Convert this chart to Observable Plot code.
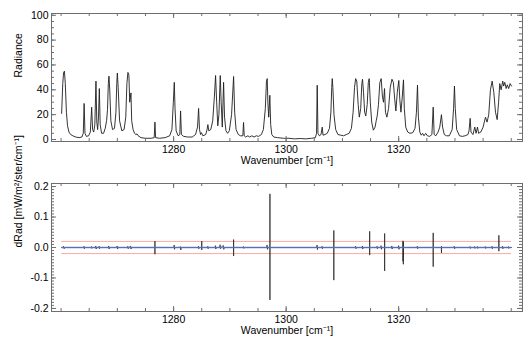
<!DOCTYPE html>
<html><head><meta charset="utf-8">
<script src="https://cdn.jsdelivr.net/npm/d3@7"></script>
<script src="https://cdn.jsdelivr.net/npm/@observablehq/plot@0.6"></script>
<style>
html,body{margin:0;padding:0;background:#fff;}
#chart{width:530px;height:338px;overflow:hidden;}
#chart svg{display:block;}
</style></head><body><div id="chart"></div>
<script>
// ---- Top panel: radiance spectrum ----
const wavenumber = [
1260.10,1260.30,1260.45,1260.60,1260.75,1260.95,1261.15,1261.40,1261.70,1262.10,
1262.60,1263.20,1263.70,1263.95,1264.10,1264.25,1264.50,1264.90,1265.20,1265.44,
1265.60,1265.80,1266.00,1266.20,1266.35,1266.50,1266.65,1266.80,1266.95,1267.20,
1267.55,1267.85,1268.10,1268.25,1268.40,1268.51,1268.65,1268.85,1269.15,1269.50,
1269.75,1269.90,1270.00,1270.15,1270.40,1270.80,1271.20,1271.50,1271.70,1271.88,
1272.05,1272.20,1272.42,1272.55,1272.80,1273.05,1273.30,1273.50,1273.70,1274.20,
1275.00,1276.00,1276.55,1276.68,1276.80,1277.50,1278.50,1279.30,1279.70,1279.95,
1280.12,1280.25,1280.45,1280.80,1281.10,1281.24,1281.38,1281.80,1282.50,1283.30,
1283.90,1284.25,1284.44,1284.60,1284.80,1284.95,1285.20,1285.70,1285.95,1286.09,
1286.25,1286.60,1286.95,1287.25,1287.46,1287.65,1287.85,1288.05,1288.29,1288.45,
1288.65,1288.88,1289.05,1289.30,1289.60,1289.90,1290.30,1290.66,1290.85,1291.10,
1291.50,1291.90,1292.30,1292.43,1292.55,1292.80,1293.20,1293.50,1293.90,1294.30,
1294.70,1295.10,1295.60,1295.95,1296.30,1296.50,1296.64,1296.75,1296.90,1297.10,
1297.25,1297.45,1297.80,1298.50,1299.50,1300.50,1301.50,1302.50,1303.50,1304.50,
1305.20,1305.40,1305.52,1305.65,1305.90,1306.20,1306.41,1306.55,1306.90,1307.30,
1307.70,1307.95,1308.10,1308.19,1308.30,1308.50,1308.80,1309.20,1309.70,1310.20,
1310.70,1311.20,1311.60,1311.90,1312.15,1312.35,1312.55,1312.80,1313.00,1313.25,
1313.45,1313.57,1313.75,1313.95,1314.15,1314.40,1314.60,1314.76,1314.95,1315.20,
1315.50,1315.80,1316.00,1316.18,1316.40,1316.65,1316.89,1317.10,1317.30,1317.48,
1317.65,1317.90,1318.20,1318.50,1318.80,1319.05,1319.30,1319.50,1319.75,1320.02,
1320.20,1320.40,1320.65,1320.85,1321.00,1321.25,1321.60,1322.00,1322.50,1322.90,
1323.15,1323.34,1323.50,1323.75,1324.00,1324.25,1324.50,1324.80,1325.10,1325.50,
1325.90,1326.13,1326.30,1326.60,1327.00,1327.30,1327.60,1327.80,1328.10,1328.50,
1329.00,1329.50,1329.75,1329.91,1330.05,1330.30,1330.80,1331.30,1331.80,1332.30,
1332.50,1332.70,1332.85,1333.20,1333.52,1333.75,1334.00,1334.20,1334.60,1335.00,
1335.42,1335.70,1336.00,1336.30,1336.61,1336.90,1337.20,1337.50,1337.75,1337.96,
1338.20,1338.49,1338.65,1338.85,1339.10,1339.30,1339.55,1339.80,1340.04];
const radiance = [
21,45,54,55,45,22,11,6,4,3,
2,1.5,2,5,29,5,2.5,3,6,26,
8,6,12,47,14,8,18,41,12,5,
5,9,15.5,24,45,51,40,15,8,9,
22,45,53.5,42,15,7,8,18,45,54,
52,30,37.5,15,8,5,4,4.5,3,1.5,
1,1,1.5,14,1.5,1,1.5,3,8,30,
46,25,7,3,4,23,4,2.5,2,2,
4,10,25,8,4,5.5,3,4,8,12,
7,8,15,35,51.5,30,11,20,51.5,30,
10,46,18,7,5,7,20,50.7,22,8,
4,3,3,13.7,3,2,3,2,3,2,
3,2.5,4,8,25,47,49,30,18,35.6,
12,4,2,1.5,1,1,0.5,0.8,0.5,1,
1.5,5,43.7,5,3,4,10,3.5,4,5,
9,22,42,49,42,20,8,4,3.5,3,
4,5,9,22,42,49,47,28,18,25,
45,48.5,38,22,19,28,46,49,30,14,
7.5,10,15,19,28,46,49,35,30,41,
22,18,25,42,48.5,46,32,23,38,47.5,
32,22,35,48,25,10,6,5,5.5,9,
22,43.7,18,6,3.5,5,3,5,3,2.5,
4,26,4,3,6,10,20,10,4,3,
3,8,25,43,25,8,3,2.5,3,4,
7,17,6,4,10,5,10,5,6,10,
18,14,20,40,47,38,22,16,30,45,
40,47,43,46,41,44,41,45,43];

// ---- Bottom panel: residual (one feature per line) ----
const resWavenumber = [
1260.10,
1260.35,1260.45,1260.55,1260.65,
1264.00,1264.07,1264.14,1264.20,
1265.35,1265.42,1265.48,1265.55,
1266.10,1266.17,1266.24,1266.30,
1266.70,1266.77,1266.84,1266.90,
1268.40,1268.47,1268.54,1268.60,
1269.90,1269.97,1270.04,1270.10,
1271.80,1271.86,1271.92,1272.36,1272.44,1272.50,
1276.68,1276.68,1276.68,1276.68,
1280.05,1280.10,1280.16,1280.22,
1281.15,1281.21,1281.28,1281.35,
1284.35,1284.41,1284.48,1284.55,
1285.00,1285.00,1285.00,1285.00,
1286.02,1286.07,1286.13,1286.20,
1287.38,1287.44,1287.50,1287.56,
1288.20,1288.26,1288.33,1288.45,1288.82,1288.92,1289.00,
1290.66,1290.66,1290.66,1290.66,
1292.37,1292.42,1292.48,1292.55,
1296.55,1296.61,1296.68,1296.75,
1297.12,1297.12,1297.12,1297.12,
1305.43,1305.49,1305.56,1305.62,
1306.34,1306.39,1306.45,1306.50,
1308.47,1308.47,1308.47,1308.47,
1312.27,1312.33,1312.40,1312.46,
1313.50,1313.55,1313.61,1313.67,
1314.84,1314.84,1314.84,1314.84,
1316.10,1316.15,1316.21,1316.27,
1316.82,1316.87,1316.93,1316.99,
1317.50,1317.50,1317.50,1317.50,
1318.72,1318.77,1318.83,1318.89,
1319.94,1319.99,1320.05,1320.11,
1320.76,1320.76,1320.76,1320.82,1320.82,1320.82,
1323.27,1323.31,1323.37,1323.43,
1326.13,1326.13,1326.13,1326.13,
1327.60,1327.60,1327.60,1327.60,
1329.84,1329.88,1329.94,1330.00,
1332.63,1332.68,1332.74,1332.80,
1333.45,1333.50,1333.56,1333.62,
1333.95,1334.00,1334.06,1334.12,
1335.35,1335.40,1335.46,1335.52,
1336.53,1336.58,1336.64,1336.70,
1337.80,1337.80,1337.80,1337.80,
1338.41,1338.46,1338.52,1338.58,
1339.45,1339.50,1339.56,1339.62,
1340.04];
const residual = [
0,
0,0.004,-0.004,0,
0,0.004,-0.004,0,
0,0.003,-0.003,0,
0,0.005,-0.005,0,
0,0.004,-0.004,0,
0,0.005,-0.005,0,
0,0.005,-0.005,0,
0,0.004,-0.004,0.005,-0.005,0,
0,0.021,-0.022,0,
0,0.008,-0.006,0,
0,0.003,-0.008,0,
0,0.004,-0.004,0,
0,0.021,-0.008,0,
0,0.004,-0.004,0,
0,0.006,-0.005,0,
0,0.009,-0.004,0,0.007,-0.006,0,
0,0.026,-0.028,0,
0,0.003,-0.003,0,
0,0.008,-0.006,0,
0,0.176,-0.172,0,
0,0.008,-0.007,0,
0,0.004,-0.004,0,
0,0.056,-0.107,0,
0,0.004,-0.004,0,
0,0.005,-0.005,0,
0,0.053,-0.025,0,
0,0.004,-0.004,0,
0,0.006,-0.006,0,
0,0.046,-0.077,0,
0,0.005,-0.005,0,
0,0.006,-0.006,0,
0,0.022,-0.045,0.018,-0.055,0,
0,0.004,-0.004,0,
0,0.048,-0.063,0,
0,0.004,-0.018,0,
0,0.004,-0.004,0,
0,0.003,-0.003,0,
0,0.003,-0.003,0,
0,0.003,-0.003,0,
0,0.003,-0.003,0,
0,0.004,-0.004,0,
0,0.040,-0.012,0,
0,0.004,-0.004,0,
0,0.003,-0.003,0,
0];
const thresholds = [-0.02, 0.02];
const zeroLevel = [0];

// ---- Ticks ----
const xMajorTicks = [1280, 1300, 1320];
const xMinorTicks = [1260,1265,1270,1275,1280,1285,1290,1295,1300,1305,1310,1315,1320,1325,1330,1335,1340];
const radMajorTicks = [0, 20, 40, 60, 80, 100];
const radMinorTicks = [0,5,10,15,20,25,30,35,40,45,50,55,60,65,70,75,80,85,90,95,100];
const resMajorTicks = [-0.2, -0.1, 0, 0.1, 0.2];
const resMinorTicks = d3.range(-20, 21).map(i => i / 100);

const xLabel = "Wavenumber [cm\u207B\u00B9]";
const topYLabel = "Radiance";
const botYLabel = "dRad [mW/m\u00B2/ster/cm\u207B\u00B9]";

const W = 530, ML = 51, MR = 8;
const FONT = "'Liberation Sans', Arial, Helvetica, sans-serif";
const AX = "#6e6e6e";

function panel({height, marginTop, marginBottom, yDomain, yMajor, yMinor, yFormat, yLabel, marks}) {
  const fw = W - ML - MR;
  const fh = height - marginTop - marginBottom;
  return Plot.plot({
    width: W, height, marginLeft: ML, marginRight: MR, marginTop, marginBottom,
    x: {domain: [1258.3, 1342], axis: null},
    y: {domain: yDomain, axis: null},
    style: {fontFamily: FONT, fontSize: "10.5px", color: "#000", background: "#fff", overflow: "visible"},
    marks: [
      ...marks,
      Plot.frame({stroke: AX}),
      Plot.tickX(xMinorTicks, {x: d => d, insetTop: fh - 3, stroke: AX}),
      Plot.tickX(xMinorTicks, {x: d => d, insetBottom: fh - 3, stroke: AX}),
      Plot.tickX(xMajorTicks, {x: d => d, insetTop: fh - 5, stroke: AX}),
      Plot.tickX(xMajorTicks, {x: d => d, insetBottom: fh - 5, stroke: AX}),
      Plot.tickY(yMinor, {y: d => d, insetRight: fw - 3, stroke: AX}),
      Plot.tickY(yMinor, {y: d => d, insetLeft: fw - 3, stroke: AX}),
      Plot.tickY(yMajor, {y: d => d, insetRight: fw - 5, stroke: AX}),
      Plot.tickY(yMajor, {y: d => d, insetLeft: fw - 5, stroke: AX}),
      Plot.text(xMajorTicks, {x: d => d, frameAnchor: "bottom", dy: 11, text: d => String(d), fill: "#000"}),
      Plot.text(yMajor, {y: d => d, frameAnchor: "left", dx: -3, textAnchor: "end", text: yFormat, fill: "#000"}),
      Plot.text([xLabel], {frameAnchor: "bottom", dy: 22, text: d => d, fill: "#000"}),
      Plot.text([yLabel], {frameAnchor: "left", dx: -33, rotate: -90, text: d => d, fill: "#000"})
    ]
  });
}

const spectrumRows = wavenumber.map((w, i) => ({w, r: radiance[i]}));
const residRows = resWavenumber.map((w, i) => ({w, r: residual[i]}));
const xStart = resWavenumber[0], xEnd = resWavenumber[resWavenumber.length - 1];

const topPanel = panel({
  height: 170, marginTop: 13, marginBottom: 29,
  yDomain: [-1.6, 101.4], yMajor: radMajorTicks, yMinor: radMinorTicks,
  yFormat: d => String(d), yLabel: topYLabel,
  marks: [Plot.line(spectrumRows, {x: "w", y: "r", stroke: "#1e1e1e", strokeWidth: 0.9})]
});

const bottomPanel = panel({
  height: 168, marginTop: 13, marginBottom: 27,
  yDomain: [-0.21, 0.21], yMajor: resMajorTicks, yMinor: resMinorTicks,
  yFormat: d => d3.format(".1f")(d).replace("\u2212", "-"), yLabel: botYLabel,
  marks: [
    Plot.ruleY(thresholds, {y: d => d, x1: xStart, x2: xEnd, stroke: "#f7aca6", strokeWidth: 1}),
    Plot.line(residRows, {x: "w", y: "r", stroke: "#2a2a2a", strokeWidth: 0.8}),
    Plot.ruleY(zeroLevel, {y: d => d, x1: xStart, x2: xEnd, stroke: "#5b76c4", strokeWidth: 1.6, strokeOpacity: 0.85})
  ]
});

const el = document.getElementById("chart");
el.appendChild(topPanel);
el.appendChild(bottomPanel);
</script>
</body></html>
